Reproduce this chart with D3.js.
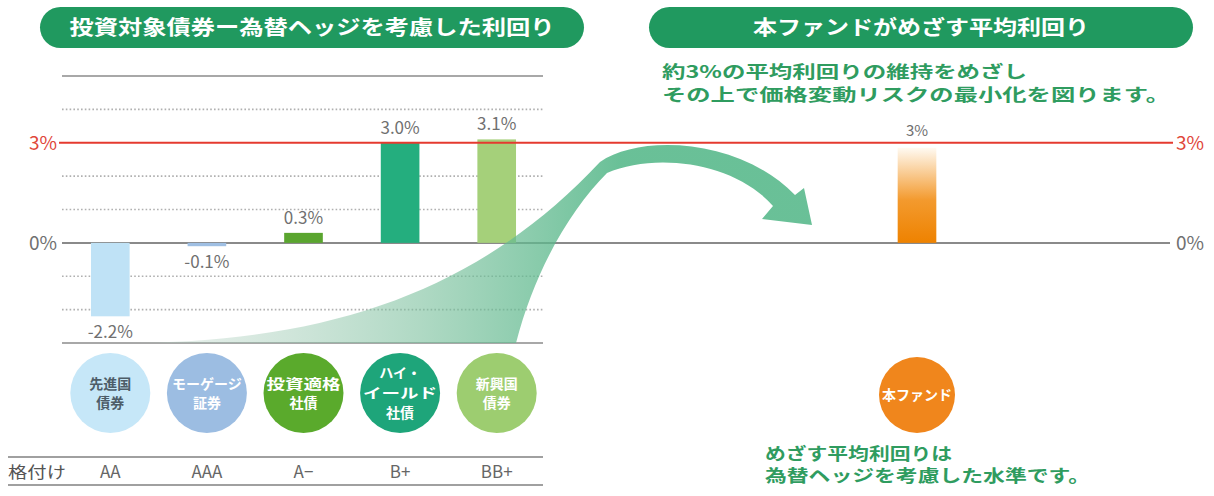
<!DOCTYPE html>
<html lang="ja">
<head>
<meta charset="UTF-8" />
<title>為替ヘッジを考慮した利回り</title>
<script src="https://d3js.org/d3.v7.min.js"></script>
<style>
  body { margin: 0; background: #fff; }
  svg { display: block; font-family: "Noto Sans CJK JP", "Noto Sans", sans-serif; }
</style>
</head>
<body>
<svg width="1214" height="496"></svg>
<script>
// data
const categories = ["先進国債券", "モーゲージ証券", "投資適格社債", "ハイ・イールド社債", "新興国債券"];
const circleLines = [["先進国", "債券"], ["モーゲージ", "証券"], ["投資適格", "社債"], ["ハイ・", "イールド", "社債"], ["新興国", "債券"]];
const yields = [-2.2, -0.1, 0.3, 3.0, 3.1];
const yieldLabels = ["-2.2%", "-0.1%", "0.3%", "3.0%", "3.1%"];
const ratings = ["AA", "AAA", "A−", "B+", "BB+"];
const fundCats = ["本ファンド"];
const fundYields = [3];
const fundLabels = ["3%"];
const gridTicks = [-3, -2, -1, 0, 1, 2, 3, 4, 5];
const targetLevel = 3;
const topNote = ["約3%の平均利回りの維持をめざし", "その上で価格変動リスクの最小化を図ります。"];
const bottomNote = ["めざす平均利回りは", "為替ヘッジを考慮した水準です。"];

// styles
const barColors = ["#bfe2f6", "#9fbfe3", "#5aa52f", "#24ae7e", "#a5d07a"];
const circleColors = ["#c6e7f8", "#9cbde2", "#5aaa2c", "#1ea57a", "#9dcd70"];
const circleText = ["#4d5d68", "#fff", "#fff", "#fff", "#fff"];
const green = "#20995f";
const textGreen = "#2f9c5f";
const gray = "#707070";

const svg = d3.select("svg");
const defs = svg.append("defs");

const y = d3.scaleLinear().domain([-3, 5]).range([343, 76]);
const x = d3.scaleBand().domain(categories).range([62, 545]).paddingInner(0.6).paddingOuter(0.3);
const xf = d3.scaleBand().domain(fundCats).range([868.7, 965.3]).paddingInner(0.6).paddingOuter(0.3);

// header pills
const pills = [
  { x0: 40, x1: 584, text: "投資対象債券ー為替ヘッジを考慮した利回り", len: 485 },
  { x0: 649, x1: 1193, text: "本ファンドがめざす平均利回り", len: 336 }
];
pills.forEach(p => {
  svg.append("rect").attr("x", p.x0).attr("y", 7).attr("width", p.x1 - p.x0).attr("height", 41)
    .attr("rx", 20.5).attr("fill", green);
  svg.append("text").attr("x", (p.x0 + p.x1) / 2).attr("y", 35).attr("text-anchor", "middle")
    .attr("fill", "#fff").attr("font-size", 20).attr("font-weight", "bold")
    .attr("textLength", p.len).attr("lengthAdjust", "spacingAndGlyphs").text(p.text);
});

// gridlines
gridTicks.forEach(t => {
  if (t === 0 || t === targetLevel) return;
  const solid = t === 5 || t === -3;
  svg.append("line").attr("x1", 62).attr("x2", 543).attr("y1", y(t)).attr("y2", y(t))
    .attr("stroke", solid ? "#a8a8a8" : "#b0b0b0")
    .attr("stroke-width", solid ? 2.2 : 1.6)
    .attr("stroke-dasharray", solid ? null : "1.6,2.2");
});
svg.append("line").attr("x1", 62).attr("x2", 1170).attr("y1", y(0)).attr("y2", y(0))
  .attr("stroke", "#8a8a8a").attr("stroke-width", 2);

// bars
svg.selectAll(".bar").data(yields).enter().append("rect")
  .attr("x", (d, i) => x(categories[i]))
  .attr("y", d => y(Math.max(0, d)))
  .attr("width", x.bandwidth())
  .attr("height", d => Math.abs(y(d) - y(0)))
  .attr("fill", (d, i) => barColors[i]);

svg.selectAll(".blab").data(yields).enter().append("text")
  .attr("x", (d, i) => x(categories[i]) + x.bandwidth() / 2)
  .attr("y", d => d >= 0 ? y(d) - 9 : y(d) + 22)
  .attr("text-anchor", "middle").attr("fill", gray).attr("font-size", 17)
  .text((d, i) => yieldLabels[i]);

// fund bar
const fg = defs.append("linearGradient").attr("id", "fundGrad").attr("x1", 0).attr("x2", 0).attr("y1", 0).attr("y2", 1);
fg.append("stop").attr("offset", "0%").attr("stop-color", "#fffaf2");
fg.append("stop").attr("offset", "55%").attr("stop-color", "#f39a2e");
fg.append("stop").attr("offset", "100%").attr("stop-color", "#ee8200");
svg.selectAll(".fbar").data(fundYields).enter().append("rect")
  .attr("x", (d, i) => xf(fundCats[i]))
  .attr("y", d => y(d) + 5)
  .attr("width", xf.bandwidth())
  .attr("height", d => y(0) - y(d) - 5)
  .attr("fill", "url(#fundGrad)");
svg.selectAll(".flab").data(fundYields).enter().append("text")
  .attr("x", (d, i) => xf(fundCats[i]) + xf.bandwidth() / 2)
  .attr("y", d => y(d) - 7)
  .attr("text-anchor", "middle").attr("fill", gray).attr("font-size", 15)
  .text((d, i) => fundLabels[i]);

// sweeping arrow
const ag = defs.append("linearGradient").attr("id", "arrowGrad").attr("gradientUnits", "userSpaceOnUse")
  .attr("x1", 130).attr("x2", 620).attr("y1", 0).attr("y2", 0);
ag.append("stop").attr("offset", "0%").attr("stop-color", "#b4ccbf").attr("stop-opacity", 0.25);
ag.append("stop").attr("offset", "60%").attr("stop-color", "#78bf9b").attr("stop-opacity", 0.6);
ag.append("stop").attr("offset", "100%").attr("stop-color", "#4fb585").attr("stop-opacity", 0.85);
const xa = x(categories[0]) + 20, xb = x(categories[4]) + x.bandwidth();
svg.append("path")
  .attr("d", `M${xa},${y(-3)} C330,${y(-3) + 2} 480,290 600,162 C640,134 740,138 795,195
    L804,188 L812,225 L762,219 L773,206 C735,162 655,152 607,173 C570,210 535,270 ${xb},${y(-3)} Z`)
  .attr("fill", "url(#arrowGrad)");

// 3% target line
svg.append("line").attr("x1", 59).attr("x2", 1173).attr("y1", y(targetLevel)).attr("y2", y(targetLevel))
  .attr("stroke", "#e53a2f").attr("stroke-width", 2.2);

// axis labels
const axisLabels = [
  { v: 3, text: "3%", color: "#e0463a" },
  { v: 0, text: "0%", color: gray }
];
axisLabels.forEach(a => {
  svg.append("text").attr("x", 57).attr("y", y(a.v) + 7).attr("text-anchor", "end")
    .attr("fill", a.color).attr("font-size", 19).text(a.text);
  svg.append("text").attr("x", 1176).attr("y", y(a.v) + 7).attr("text-anchor", "start")
    .attr("fill", a.color).attr("font-size", 19).text(a.text);
});

// category circles
const cg = svg.selectAll(".cat").data(categories).enter().append("g")
  .attr("transform", d => `translate(${x(d) + x.bandwidth() / 2},393)`);
cg.append("circle").attr("r", 40).attr("fill", (d, i) => circleColors[i]);
cg.each(function(d, i) {
  const lines = circleLines[i];
  const lh = lines.length > 2 ? 20 : 19;
  const t = d3.select(this).append("text")
    .attr("text-anchor", "middle").attr("fill", circleText[i])
    .attr("font-size", 14).attr("font-weight", "bold");
  lines.forEach((ln, j) => {
    t.append("tspan").attr("x", 0).attr("y", (j - (lines.length - 1) / 2) * lh + 5)
      .attr("textLength", ln.length === 4 ? 74 : null)
      .attr("lengthAdjust", "spacingAndGlyphs")
      .text(ln);
  });
});

// fund circle
const fc = svg.selectAll(".fcat").data(fundCats).enter().append("g")
  .attr("transform", d => `translate(${xf(d) + xf.bandwidth() / 2},395)`);
fc.append("circle").attr("r", 38).attr("fill", "#f0861c");
fc.append("text").attr("y", 5).attr("text-anchor", "middle").attr("fill", "#fff")
  .attr("font-size", 14).attr("font-weight", "bold").text(d => d);

// rating row
[457, 485].forEach(yy => {
  svg.append("line").attr("x1", 8).attr("x2", 543).attr("y1", yy).attr("y2", yy)
    .attr("stroke", "#a0a0a0").attr("stroke-width", 2.2);
});
svg.append("text").attr("x", 8).attr("y", 478).attr("fill", "#555").attr("font-size", 16)
  .attr("textLength", 58).attr("lengthAdjust", "spacingAndGlyphs").text("格付け");
svg.selectAll(".rating").data(ratings).enter().append("text")
  .attr("x", (d, i) => x(categories[i]) + x.bandwidth() / 2)
  .attr("y", 478).attr("text-anchor", "middle").attr("fill", "#666").attr("font-size", 17)
  .text(d => d);

// notes (two-line blocks)
function note(lines, x0, y0, lens) {
  const t = svg.append("text").attr("fill", textGreen)
    .attr("font-size", 16.5).attr("font-weight", "bold");
  lines.forEach((ln, j) => {
    t.append("tspan").attr("x", x0).attr("y", y0 + j * 22.5)
      .attr("textLength", lens[j]).attr("lengthAdjust", "spacingAndGlyphs").text(ln);
  });
}
note(topNote, 662, 78, [365, 508]);
note(bottomNote, 765, 459.5, [187, 325]);
</script>
</body>
</html>
